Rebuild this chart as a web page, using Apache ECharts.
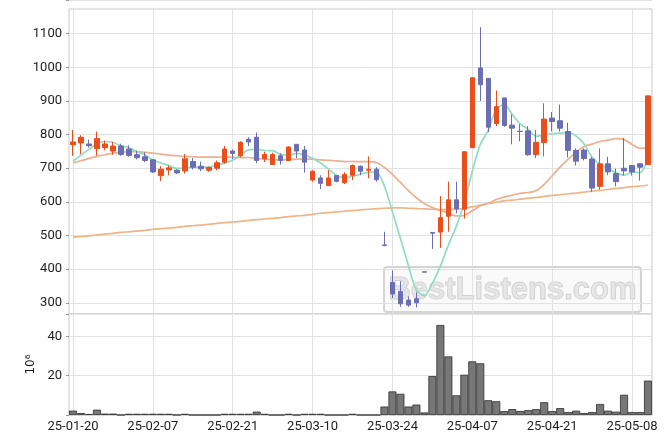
<!DOCTYPE html>
<html><head><meta charset="utf-8">
<script src="https://cdn.jsdelivr.net/npm/echarts@6/dist/echarts.min.js"></script>
<style>html,body{margin:0;padding:0;background:#fff}#c{width:671px;height:444px}</style>
</head><body><div id="c"></div>
<script>
const dates = ['25-01-20','25-01-21','25-01-22','25-01-23','25-01-24','25-01-31','25-02-03','25-02-04','25-02-05','25-02-06',
'25-02-07','25-02-10','25-02-11','25-02-12','25-02-13','25-02-14','25-02-17','25-02-18','25-02-19','25-02-20',
'25-02-21','25-02-24','25-02-25','25-02-26','25-02-27','25-02-28','25-03-04','25-03-05','25-03-06','25-03-07',
'25-03-10','25-03-11','25-03-12','25-03-13','25-03-14','25-03-17','25-03-18','25-03-19','25-03-20','25-03-21',
'25-03-24','25-03-25','25-03-26','25-03-27','25-03-28','25-03-31','25-04-01','25-04-02','25-04-03','25-04-04',
'25-04-07','25-04-08','25-04-09','25-04-10','25-04-11','25-04-14','25-04-15','25-04-16','25-04-17','25-04-18',
'25-04-21','25-04-22','25-04-23','25-04-24','25-04-25','25-04-28','25-04-29','25-04-30','25-05-02','25-05-07',
'25-05-08','25-05-09','25-05-12'];
const opens = [770,775,772,758,761,751,766,757,740,734, 725,678,695,694,692,720,706,694,700,718,
751,737,786,792,728,711,737,723,771,754, 665,671,648,678,657,679,706,694,697,472,
360,334,308,312,392,509,510,557,606,578, 761,998,967,833,909,828,810,811,740,776,
849,841,809,753,754,727,646,713,684,700, 708,713,711];
const closes = [778,792,767,788,772,766,741,738,731,723, 689,697,701,686,728,703,698,702,716,757,
744,777,778,723,741,741,723,763,751,718, 691,655,671,661,681,708,691,697,666,470,
326,297,293,300,391,507,553,606,579,749, 969,948,822,883,827,819,809,740,777,846,
839,819,753,721,729,641,713,689,660,692, 689,703,915];
const lows = [737,742,761,737,753,740,737,734,726,718, 686,662,679,683,684,696,691,689,694,713,
727,732,766,715,718,710,711,722,730,687, 660,638,648,658,653,665,679,670,660,468,
314,288,288,286,391,460,463,511,566,550, 761,900,807,825,823,771,780,737,730,735,
809,809,732,708,723,630,636,679,646,679, 678,663,711];
const highs = [814,798,785,809,782,778,773,768,752,747, 727,706,708,697,742,730,720,705,723,766,
756,780,792,806,749,746,744,765,772,766, 694,679,694,680,688,711,708,735,703,511,
396,364,319,331,392,510,617,660,660,749, 969,1119,967,931,910,860,831,825,814,893,
867,889,835,759,759,734,759,734,699,790, 708,715,915];
const volumes = [2.2,1.0,0.5,2.7,0.7,0.7,0,0.6,0.6,0.6, 0.6,0.6,0.6,0,0.6,0,0,0,0,0.6,
0.6,0.6,0.6,1.7,0.6,0,0,0.6,0,0.6, 0.6,0.6,0,0,0,0.6,0,0,0,4.3,
12.0,10.8,4.3,5.3,1.3,19.8,45.8,29.8,10.0,20.5, 27.3,26.3,7.5,7.0,2.0,3.0,2.0,2.5,3.0,6.5,
2.0,3.5,1.5,2.2,1.0,1.5,5.6,2.2,1.7,10.3, 1.5,1.5,17.5];
const maShort = [721,739,756,773,779.4,777,766.8,761,749.6,739.8, 724.4,715.6,708.2,699.2,700.2,703,703.2,703.4,709.4,715.2,
723.4,739.2,754.4,755.8,752.6,752,741.2,738.2,743.8,739.2, 729.2,715.6,697.2,679.2,671.8,675.2,682.4,687.6,688.6,646.4,
570,491.2,410.4,337.2,321.4,357.6,408.8,471.4,527.2,598.8, 691.2,770.2,813.4,874.2,889.8,859.8,832,815.6,794.4,798.2,
802.2,804.2,806.8,795.6,772.2,732.6,711.4,698.6,686.4,679, 688.6,686.6,731.8];
const maMid = [716,722,729,735,740,745,748,749,749,747, 745,742,739,737,735,734,733,733,733,733.7,
732,731.2,731.8,728.5,727,725.7,724.8,726,727,726.8, 726.9,724.8,723.3,722,719.7,720,719.6,719.4,716.9,702.5,
681.6,657.6,633.4,612.2,594.7,583,574.5,566.7,558,559.6, 573.5,588.2,595.7,606.8,614.1,619.7,625.6,627.7,633.3,652,
677.7,703.8,726.8,747.9,764.8,771.5,779.5,783.6,787.7,784.8, 770.8,758.6,763.2];
const maLong = [495,497,499,502,504,506,509,511,513,515, 518,520,522,524,527,529,531,533,536,538,
540,542,545,547,549,551,553,556,558,560, 563,566,568,570,572,574,576,578,580,581,
582,582,581,580,579,578,577,577,578,581, 585,590,595,599,603,605,608,611,613,616,
619,621,624,626,629,632,634,637,640,642, 645,647,650];
const priceTicks = [300,400,500,600,700,800,900,1000,1100];
const volumeTicks = [20,40];

const UP = '#E94F1C', DOWN = '#6A6EB2';
const FONT = 'Roboto';
const GRID_C = '#e2e2e2';
const labelEvery = (i) => i % 10 === 0;
const hiddenAxis = {axisLine: {show: false}, axisTick: {show: false}, axisLabel: {show: false}, splitLine: {show: false}};
const PRICE_MIN = 200, PRICE_MAX = 1200, VOL_MAX = 51.4;

const chart = echarts.init(document.getElementById('c'));
chart.setOption({
  animation: false,
  textStyle: {fontFamily: FONT},
  grid: [
    {left: 73, right: 23, top: -10.7, height: 347.1},
    {left: 73, right: 23, top: 314, height: 101},
    {left: 69, right: 19, top: -10.7, height: 347.1},
    {left: 69, right: 19, top: 314, height: 101, show: true, borderColor: '#c9c9c9', borderWidth: 1, backgroundColor: 'rgba(0,0,0,0)'},
    {left: 69, right: 19, top: 9, height: 305, show: true, borderColor: '#c9c9c9', borderWidth: 1, backgroundColor: 'rgba(0,0,0,0)'},
    {left: 73, right: 23, top: 9, height: 305}
  ],
  xAxis: [
    Object.assign({type: 'category', gridIndex: 0, data: dates, boundaryGap: false}, hiddenAxis),
    {type: 'category', gridIndex: 1, data: dates, boundaryGap: false,
     axisLine: {show: false}, axisTick: {show: false},
     axisLabel: {interval: labelEvery, color: '#1e1e1e', fontSize: 13, margin: 5, fontFamily: FONT},
     splitLine: {show: true, interval: labelEvery, lineStyle: {color: GRID_C}}},
    Object.assign({type: 'category', gridIndex: 2, data: dates, boundaryGap: false}, hiddenAxis),
    Object.assign({type: 'category', gridIndex: 3, data: dates, boundaryGap: false}, hiddenAxis),
    {type: 'category', gridIndex: 5, data: dates, boundaryGap: false,
     axisLine: {show: false}, axisTick: {show: false}, axisLabel: {show: false},
     splitLine: {show: true, interval: labelEvery, lineStyle: {color: GRID_C}}}
  ],
  yAxis: [
    Object.assign({type: 'value', gridIndex: 0, min: PRICE_MIN, max: PRICE_MAX, interval: 100}, hiddenAxis),
    Object.assign({type: 'value', gridIndex: 1, min: 0, max: VOL_MAX, interval: 20}, hiddenAxis),
    {type: 'value', gridIndex: 2, min: PRICE_MIN, max: PRICE_MAX, interval: 100,
     axisLine: {show: false}, axisTick: {show: true, length: 3, lineStyle: {color: '#999'}},
     axisLabel: {color: '#1e1e1e', fontSize: 13, margin: 7, fontFamily: FONT,
       formatter: (v) => (priceTicks.indexOf(v) >= 0 ? String(v) : '')},
     splitLine: {show: true, lineStyle: {color: GRID_C, width: 1}}},
    {type: 'value', gridIndex: 3, min: 0, max: VOL_MAX, interval: 20,
     name: '10\u2076', nameLocation: 'middle', nameGap: 31, nameRotate: 90,
     nameTextStyle: {color: '#1e1e1e', fontSize: 12, fontFamily: 'DejaVu Sans'},
     axisLine: {show: false}, axisTick: {show: true, length: 3, lineStyle: {color: '#999'}},
     axisLabel: {color: '#1e1e1e', fontSize: 13, margin: 7, fontFamily: FONT,
       formatter: (v) => (volumeTicks.indexOf(v) >= 0 ? String(v) : '')},
     splitLine: {show: true, lineStyle: {color: GRID_C, width: 1}}},
    Object.assign({type: 'value', gridIndex: 5, min: 0, max: 1}, hiddenAxis)
  ],
  series: [
    {type: 'line', name: 'MA long', xAxisIndex: 0, yAxisIndex: 0, data: maLong, smooth: 0.3, showSymbol: false, z: 1,
     lineStyle: {color: '#EDB688', width: 1.7}},
    {type: 'line', name: 'MA20', xAxisIndex: 0, yAxisIndex: 0, data: maMid, smooth: 0.3, showSymbol: false, z: 1,
     lineStyle: {color: '#EEAE90', width: 1.7}},
    {type: 'line', name: 'MA5', xAxisIndex: 0, yAxisIndex: 0, data: maShort, smooth: 0.3, showSymbol: false, z: 1,
     lineStyle: {color: '#92DCC3', width: 1.7}},
    {type: 'candlestick', xAxisIndex: 0, yAxisIndex: 0, barWidth: 5, clip: false, z: 3,
     data: dates.map((d, i) => [opens[i], closes[i], lows[i], highs[i]]),
     itemStyle: {color: UP, color0: DOWN, borderColor: UP, borderColor0: DOWN, borderWidth: 1}},
    {type: 'bar', xAxisIndex: 1, yAxisIndex: 1, data: volumes, barWidth: '100%', clip: false,
     itemStyle: {color: '#777777', borderColor: '#2e2e2e', borderWidth: 0.8}}
  ],
  graphic: [
    {type: 'group', left: 383, top: 266, silent: true, z: 10, children: [
      {type: 'rect', shape: {x: 0, y: 0, width: 257, height: 45, r: 3},
       style: {fill: 'rgba(240,240,240,0.35)', stroke: 'rgba(195,195,195,0.7)', lineWidth: 2}},
      {type: 'text', x: 128.5, y: 23,
       style: {text: 'BestListens.com', align: 'center', verticalAlign: 'middle',
         font: 'bold 31px "Liberation Sans"', fill: 'rgba(215,215,215,0.55)', stroke: 'rgba(175,175,175,0.55)', lineWidth: 1}}
    ]}
  ]
});
</script></body></html>
